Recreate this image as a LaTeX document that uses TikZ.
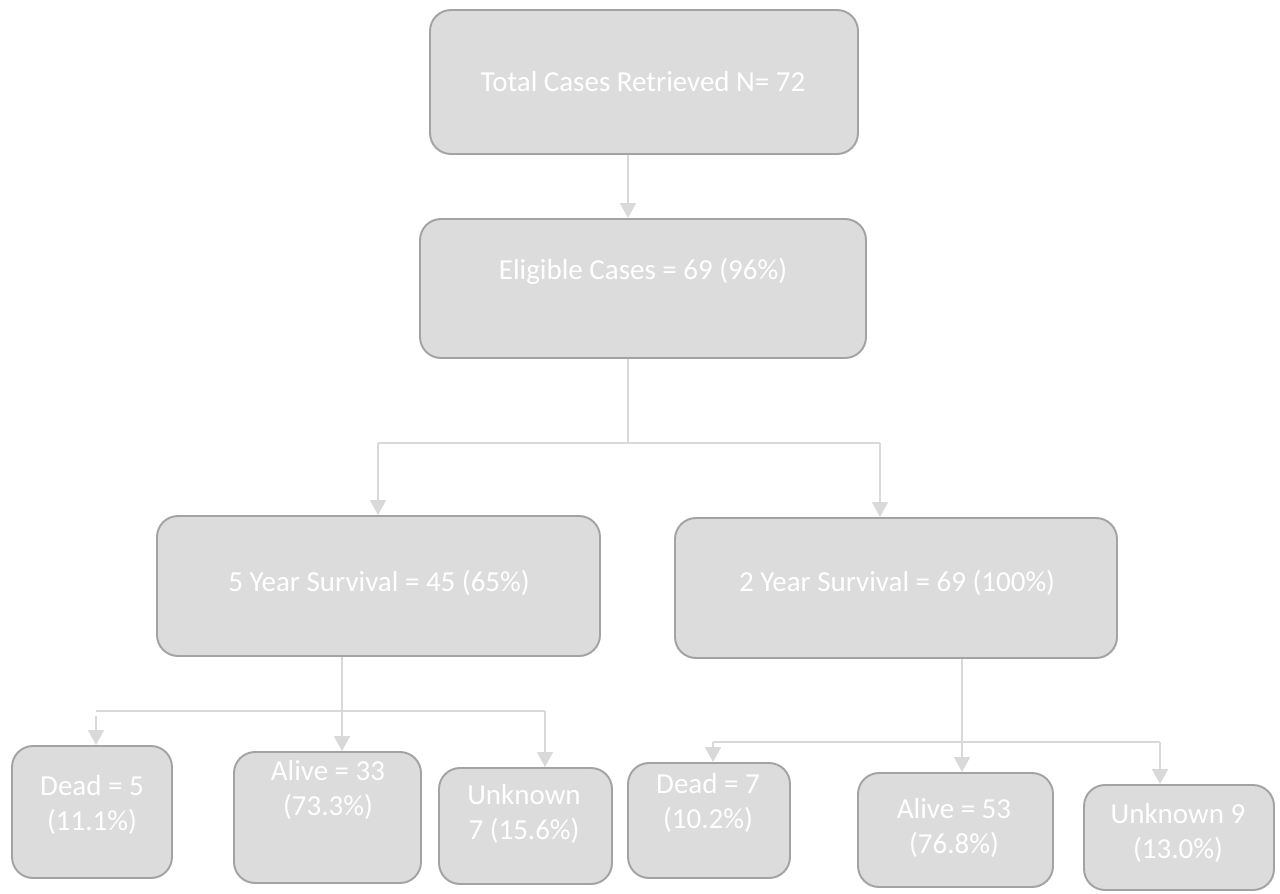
\documentclass[tikz,border=0pt]{standalone}
\usepackage{fontspec}
\setmainfont{Carlito}
\usetikzlibrary{arrows.meta}
\definecolor{boxfill}{HTML}{DCDCDC}
\definecolor{boxline}{HTML}{A3A3A3}
\definecolor{conline}{HTML}{D9D9D9}
\begin{document}
\begin{tikzpicture}[x=0.02cm,y=-0.02cm,
  box/.style={draw=boxline, fill=boxfill, line width=1.1pt, rounded corners=0.42cm, inner sep=0pt},
  sz/.style 2 args={minimum width=#1*0.02cm, minimum height=#2*0.02cm},
  txt/.style={text=white, align=center, font=\fontsize{16.5}{19.8}\selectfont, inner sep=0pt},
  con/.style={draw=conline, line width=1.2pt},
  arr/.style={con, -{Triangle[width=9pt,length=8.5pt]}, conline}]
\useasboundingbox (0,0) rectangle (1280,893);
% boxes
\node[box, sz={428}{144}] (b1) at (644,82) {};
\node[box, sz={446}{139}] (b2) at (643,288.5) {};
\node[box, sz={443}{140}] (b3) at (378.5,586) {};
\node[box, sz={442}{140}] (b4) at (896,588) {};
\node[box, sz={160}{132}] (d5) at (92,812) {};
\node[box, sz={187}{131}] (a33) at (327.5,817.5) {};
\node[box, sz={173}{116}] (u7) at (525.5,826) {};
\node[box, sz={162}{115}] (d7) at (709,820.5) {};
\node[box, sz={195}{114}] (a53) at (955.5,830) {};
\node[box, sz={190}{105}] (u9) at (1179,837.5) {};
% texts
\node[txt] (t1) at (643,82) {Total Cases Retrieved N= 72};
\node[txt] (t2) at (643,271) {Eligible Cases = 69 (96\%)};
\node[txt] (t3) at (379,583) {5 Year Survival = 45 (65\%)};
\node[txt] (t4) at (897,583) {2 Year Survival = 69 (100\%)};
\node[txt] (td5) at (92,805) {Dead = 5\\(11.1\%)};
\node[txt] (ta33) at (328,790) {Alive = 33\\(73.3\%)};
\node[txt] (tu7) at (524,814) {Unknown\\7 (15.6\%)};
\node[txt] (td7) at (708,803) {Dead = 7\\(10.2\%)};
\node[txt] (ta53) at (954,828) {Alive = 53\\(76.8\%)};
\node[txt] (tu9) at (1178,833) {Unknown 9\\(13.0\%)};
% junction coordinates
\coordinate (j0) at (628,443);
\coordinate (jL) at (378,443);
\coordinate (jR) at (880,443);
\coordinate (k0) at (342,711);
\coordinate (kL) at (96,711);
\coordinate (kL2) at (96,716);
\coordinate (kR) at (545,711);
\coordinate (m0) at (962,742);
\coordinate (mL) at (713,742);
\coordinate (mR) at (1160,742);
% connectors
\draw[arr] (b1.south -| j0) -- (b2.north -| j0);
\draw[con] (b2.south -| j0) -- (j0);
\draw[con] (jL) -- (jR);
\draw[arr] (jL) -- (b3.north -| jL);
\draw[arr] (jR) -- (b4.north -| jR);
\draw[arr] (b3.south -| k0) -- (a33.north -| k0);
\draw[con] (kL) -- (kR);
\draw[arr] (kL2) -- (d5.north -| kL2);
\draw[arr] (kR) -- (u7.north -| kR);
\draw[arr] (b4.south -| m0) -- (a53.north -| m0);
\draw[con] (mL) -- (mR);
\draw[arr] (mL) -- (d7.north -| mL);
\draw[arr] (mR) -- (u9.north -| mR);
\end{tikzpicture}
\end{document}
